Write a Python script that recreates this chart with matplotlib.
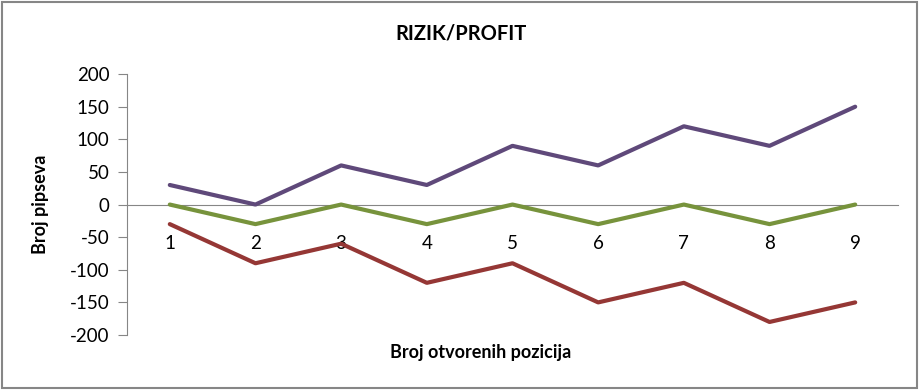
import matplotlib.pyplot as plt
from matplotlib.patches import Rectangle

plt.rcParams['font.family'] = ['Lato', 'DejaVu Sans']
plt.rcParams['axes.unicode_minus'] = False

pozicije = [1, 2, 3, 4, 5, 6, 7, 8, 9]
profit = [30, 0, 60, 30, 90, 60, 120, 90, 150]
sredina = [0, -30, 0, -30, 0, -30, 0, -30, 0]
rizik = [-30, -90, -60, -120, -90, -150, -120, -180, -150]
y_ticks = [-200, -150, -100, -50, 0, 50, 100, 150, 200]

fig = plt.figure(figsize=(9.22, 3.9), dpi=100)
ax = fig.add_axes([0.1377, 0.141, 0.8363, 0.669])

ax.plot(pozicije, profit, color='#5F497A', lw=3, solid_capstyle='round')
ax.plot(pozicije, sredina, color='#77933C', lw=3, solid_capstyle='round')
ax.plot(pozicije, rizik, color='#953735', lw=3, solid_capstyle='round')

ax.set_xlim(0.5, 9.5)
ax.set_ylim(-200, 200)
ax.set_yticks(y_ticks)
ax.set_xticks(pozicije)

for s in ['top', 'right']:
    ax.spines[s].set_visible(False)
ax.spines['bottom'].set_position(('data', 0))
ax.spines['bottom'].set_color('#868686')
ax.spines['left'].set_color('#868686')
ax.spines['bottom'].set_zorder(0)

ax.tick_params(axis='y', length=6.5, color='#868686', labelsize=13.5, pad=6)
ax.tick_params(axis='x', length=0, labelsize=13.5, pad=22)

fig.text(0.5, 0.915, 'RIZIK/PROFIT', ha='center', va='center',
         fontsize=14.5, fontweight='bold')
fig.text(0.044, 0.477, 'Broj pipseva', ha='center', va='center',
         rotation=90, fontsize=13, fontweight='bold')
fig.text(0.521, 0.097, 'Broj otvorenih pozicija', ha='center', va='center',
         fontsize=13, fontweight='bold')

fig.patches.append(Rectangle((0.002, 0.004), 0.993, 0.992, transform=fig.transFigure,
                             fill=False, edgecolor='#868686', lw=1.5))

fig.savefig('out.png', dpi=100)
